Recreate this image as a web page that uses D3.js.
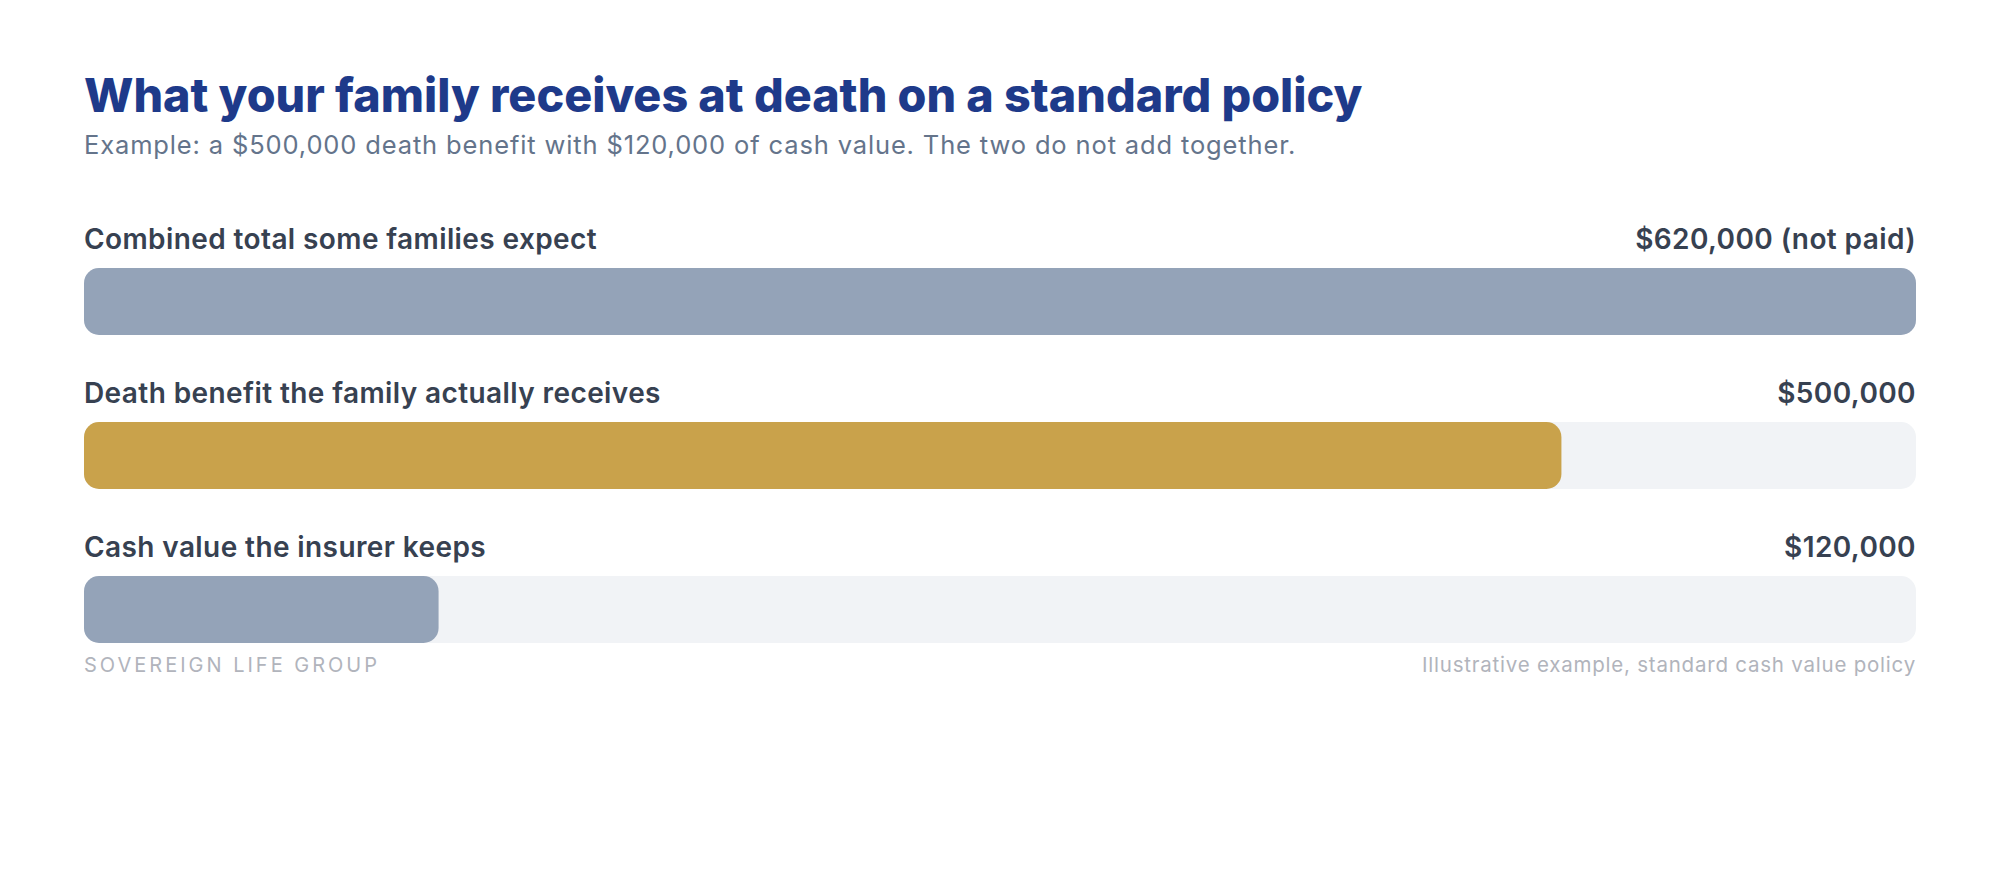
<!DOCTYPE html>
<html>
<head>
<meta charset="utf-8">
<script src="https://cdn.jsdelivr.net/npm/d3@7"></script>
<style>
  body { margin: 0; background: #fff; }
  svg { display: block; font-family: Inter, "Noto Sans", sans-serif; }
</style>
</head>
<body>
<svg id="chart" width="2000" height="880"></svg>
<script>
// === DATA ===
const categories = [
    "Combined total some families expect",
    "Death benefit the family actually receives",
    "Cash value the insurer keeps"
];
const values = [620000, 500000, 120000];
const valueLabels = ["$620,000 (not paid)", "$500,000", "$120,000"];
const barColors = ["#94a3b8", "#c9a24b", "#94a3b8"];

const title = "What your family receives at death on a standard policy";
const subtitle = "Example: a $500,000 death benefit with $120,000 of cash value. The two do not add together.";
const sourceText = "SOVEREIGN LIFE GROUP";
const noteText = "Illustrative example, standard cash value policy";

// === LAYOUT ===
const left = 84, right = 1916;
const barTop = 268, rowStep = 154, barH = 67;

const svg = d3.select("#chart");

const x = d3.scaleLinear()
    .domain([0, d3.max(values)])
    .range([left, right]);

const y = d3.scaleBand()
    .domain(categories)
    .range([barTop, barTop + rowStep * (categories.length - 1) + barH])
    .paddingInner(1 - barH / rowStep)
    .paddingOuter(0);

// title + subtitle
svg.append("text")
    .attr("x", left).attr("y", 112)
    .attr("font-size", 46.7).attr("font-weight", 800)
    .attr("fill", "#1e3a8a")
    .text(title);

svg.append("text")
    .attr("x", left).attr("y", 154)
    .attr("font-size", 25.5)
    .attr("letter-spacing", "0.86")
    .attr("fill", "#64748b")
    .text(subtitle);

// rows
const row = svg.selectAll(".row")
    .data(categories)
    .enter()
    .append("g")
    .attr("class", "row");

// track behind each bar
row.append("rect")
    .attr("x", left)
    .attr("y", d => y(d))
    .attr("width", right - left)
    .attr("height", y.bandwidth())
    .attr("rx", 15)
    .attr("fill", "#f1f3f6");

row.append("rect")
    .attr("x", left)
    .attr("y", d => y(d))
    .attr("width", (d, i) => x(values[i]) - left)
    .attr("height", y.bandwidth())
    .attr("rx", 15)
    .attr("fill", (d, i) => barColors[i]);

row.append("text")
    .attr("x", left)
    .attr("y", d => y(d) - 19)
    .attr("font-size", 28).attr("font-weight", 600)
    .attr("letter-spacing", "0.4")
    .attr("fill", "#374151")
    .text(d => d);

row.append("text")
    .attr("x", right)
    .attr("y", d => y(d) - 19)
    .attr("text-anchor", "end")
    .attr("font-size", 28).attr("font-weight", 600)
    .attr("letter-spacing", "0.4")
    .attr("fill", "#374151")
    .text((d, i) => valueLabels[i]);

// footer
svg.append("text")
    .attr("x", left).attr("y", 672)
    .attr("font-size", 20)
    .attr("letter-spacing", "3")
    .attr("fill", "#b1b4bc")
    .text(sourceText);

svg.append("text")
    .attr("x", right).attr("y", 672)
    .attr("text-anchor", "end")
    .attr("font-size", 20.5)
    .attr("letter-spacing", "0.78")
    .attr("fill", "#b1b4bc")
    .text(noteText);
</script>
</body>
</html>
